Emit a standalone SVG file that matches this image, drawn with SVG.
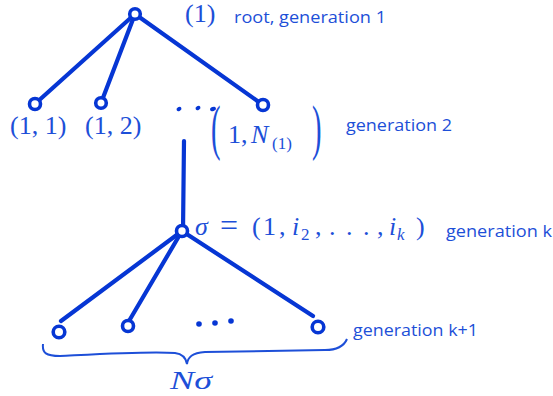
<svg xmlns="http://www.w3.org/2000/svg" width="553" height="396" viewBox="0 0 553 396">
<style>
.e{stroke:#0636d4;stroke-width:4.2;stroke-linecap:round;fill:none}
.n{fill:#fff;stroke:#0636d4;stroke-width:3.6}
.m{font-family:"Liberation Serif","DejaVu Serif",serif;fill:#1d4fd8;font-size:26px}
.i{font-style:italic}
.sub{font-size:17px}
.s{font-family:"Open Sans","Noto Sans",sans-serif;fill:#1d4fd8;font-size:16px}
.d{fill:#0636d4}
</style>
<rect width="553" height="396" fill="#fff"/>
<g id="connectors">
<line class="e" x1="135" y1="14" x2="36" y2="103"/>
<line class="e" x1="135" y1="14" x2="101" y2="103"/>
<line class="e" x1="135" y1="14" x2="263" y2="105"/>
<line class="e" x1="184" y1="141" x2="183" y2="231"/>
<line class="e" x1="182" y1="231" x2="61" y2="321"/>
<line class="e" x1="182" y1="231" x2="129" y2="321"/>
<line class="e" x1="182" y1="231" x2="313" y2="316"/>
</g>
<g id="root"><circle class="n" cx="135" cy="14" r="5.3"/>
<text class="m" x="185" y="22" font-size="27">(1)</text>
<text class="s" x="234" y="23" textLength="152" lengthAdjust="spacingAndGlyphs">root, generation 1</text></g>
<g id="n11"><circle class="n" cx="35" cy="104" r="5.5"/><text class="m" x="10" y="134">(1, 1)</text></g>
<g id="n12"><circle class="n" cx="101" cy="103" r="5.3"/><text class="m" x="85" y="134">(1, 2)</text></g>
<g id="gen2dots"><ellipse class="d" cx="179" cy="109" rx="2.6" ry="2" transform="rotate(-30 179 109)"/><ellipse class="d" cx="198" cy="108" rx="2.6" ry="2" transform="rotate(-30 198 108)"/><ellipse class="d" cx="213" cy="109" rx="3" ry="2" transform="rotate(-20 213 109)"/></g>
<g id="n1N"><circle class="n" cx="263" cy="105" r="5.5"/>
<text class="m" x="0" y="0" transform="translate(211 147.5) scale(1.1 2.36)">(</text>
<text class="m" x="228" y="143">1,</text>
<text class="m i" x="251" y="143" font-size="28">N</text>
<text class="m sub" x="272" y="149">(1)</text>
<text class="m" x="0" y="0" transform="translate(312 147.5) scale(1.1 2.36)">)</text></g>
<text class="s" x="346" y="131" textLength="106" lengthAdjust="spacingAndGlyphs">generation 2</text>
<g id="sigma"><circle class="n" cx="182" cy="231" r="5.5"/>
<text class="m" y="235"><tspan class="i" x="195">σ</tspan><tspan x="220" font-size="32" y="236">=</tspan><tspan x="252" y="235">(</tspan><tspan x="263">1</tspan><tspan x="279">,</tspan><tspan class="i" x="292">i</tspan><tspan class="sub" x="301" y="240">2</tspan><tspan x="315" y="235">,</tspan><tspan x="329">.</tspan><tspan x="346">.</tspan><tspan x="363">.</tspan><tspan x="377">,</tspan><tspan class="i" x="389">i</tspan><tspan class="i sub" x="397" y="240">k</tspan><tspan x="416" y="235">)</tspan></text>
<text class="s" x="446" y="237" textLength="106" lengthAdjust="spacingAndGlyphs">generation k</text></g>
<g id="c1"><circle class="n" cx="59" cy="332" r="5.8"/></g>
<g id="c2"><circle class="n" cx="128" cy="326" r="5.5"/></g>
<g id="c3"><circle class="n" cx="318" cy="327" r="5.8"/></g>
<g id="gen3dots"><circle class="d" cx="199" cy="324" r="2.8"/><circle class="d" cx="215" cy="323" r="2.8"/><circle class="d" cx="231" cy="321" r="2.8"/></g>
<text class="s" x="353" y="336" textLength="125" lengthAdjust="spacingAndGlyphs">generation k+1</text>
<g id="brace"><path d="M43 344 C42 353 46 356 60 356 C100 354 150 351 175 353 C183 354 186 358 187 364 C188 357 192 353 205 352 L325 350 C338 350 344 346 347 339" fill="none" stroke="#1d4fd8" stroke-width="2"/>
<text class="m i" x="170" y="389" font-size="27" textLength="42" lengthAdjust="spacingAndGlyphs">Nσ</text></g>
</svg>
